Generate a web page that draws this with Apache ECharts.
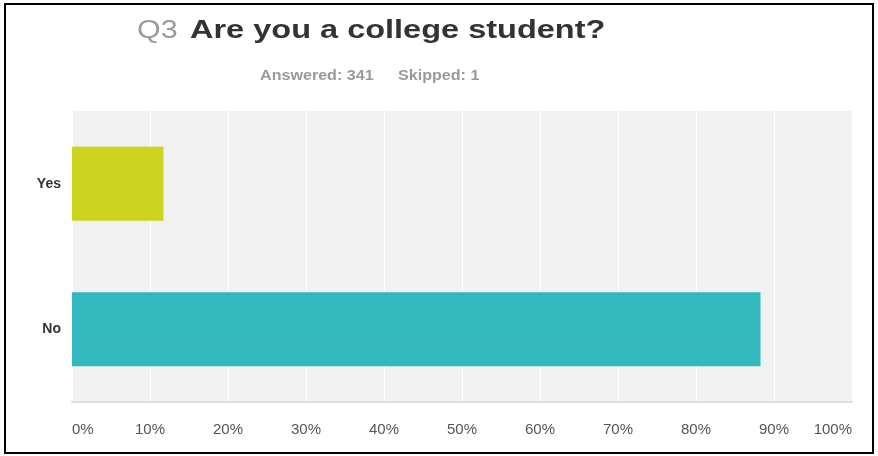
<!DOCTYPE html>
<html>
<head>
<meta charset="utf-8">
<script src="https://cdn.jsdelivr.net/npm/echarts@6/dist/echarts.min.js"></script>
<style>
  html, body { margin: 0; padding: 0; background: #fff; }
  #container { width: 878px; height: 456px; }
</style>
</head>
<body>
<div id="container"></div>
<script>
var dom = document.getElementById("container");
var myChart = echarts.init(dom, null, { renderer: "canvas" });

const categories = ["Yes", "No"];
const percents = [11.73, 88.27];
const barColors = ["#cdd41f", "#31b9bd"];
const tickValues = [0, 10, 20, 30, 40, 50, 60, 70, 80, 90, 100];

// the source picture is a bit stretched sideways, so the texts are scaled in x
function stretchedText(x, y, text, size, weight, color, sx) {
  return {
    type: "text",
    x: x,
    y: y,
    scaleX: sx,
    style: {
      text: text,
      font: weight + " " + size + "px 'Liberation Sans'",
      fill: color,
      verticalAlign: "middle",
      align: "left",
    },
  };
}

var option = {
  backgroundColor: "#fff",
  animation: false,
  grid: {
    left: 72,
    right: 26,
    top: 111,
    bottom: 54,
    show: true,
    backgroundColor: "#f1f1f1",
    borderWidth: 0,
  },
  xAxis: {
    type: "value",
    min: 0,
    max: 100,
    interval: 10,
    axisLine: { show: true, lineStyle: { color: "#dedede", width: 2 } },
    axisTick: { show: false },
    splitLine: { show: true, lineStyle: { color: "#ffffff", width: 1 } },
    axisLabel: {
      margin: 20,
      fontFamily: "Liberation Sans",
      fontSize: 15,
      color: "#555",
      alignMinLabel: "left",
      alignMaxLabel: "right",
      formatter: function (v) {
        return tickValues.indexOf(v) >= 0 ? v + "%" : "";
      },
    },
  },
  yAxis: {
    type: "category",
    inverse: true,
    data: categories,
    axisLine: { show: false },
    axisTick: { show: false },
    axisLabel: {
      margin: 11,
      fontFamily: "Liberation Sans",
      fontSize: 14,
      fontWeight: "bold",
      color: "#333",
    },
  },
  series: [
    {
      type: "bar",
      barWidth: 74,
      data: percents.map(function (v, i) {
        return { value: v, itemStyle: { color: barColors[i] } };
      }),
    },
  ],
  graphic: {
    elements: [
      stretchedText(137, 31, "Q3", 25, "normal", "#9a9a9a", 1.22),
      stretchedText(190, 31, "Are you a college student?", 25, "bold", "#333", 1.3),
      stretchedText(260, 76, "Answered: 341", 14, "bold", "#9a9a9a", 1.15),
      stretchedText(398, 76, "Skipped: 1", 14, "bold", "#9a9a9a", 1.15),
      {
        type: "rect",
        shape: { x: 5, y: 4, width: 868, height: 449 },
        style: { fill: null, stroke: "#000", lineWidth: 2 },
        z: 100,
      },
    ],
  },
};

myChart.setOption(option);
window.addEventListener("resize", myChart.resize);
</script>
</body>
</html>
